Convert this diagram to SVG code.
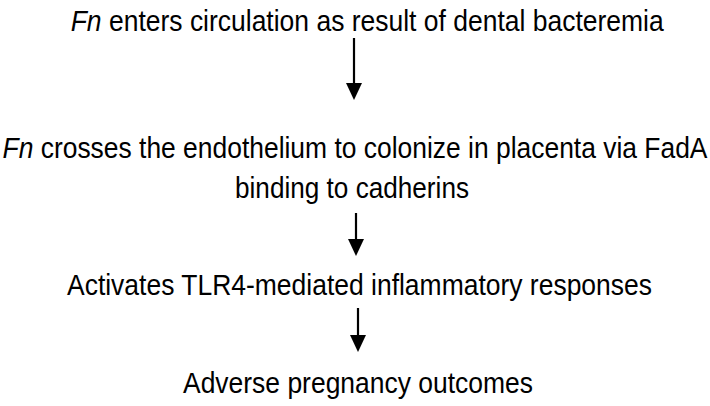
<svg xmlns="http://www.w3.org/2000/svg" width="710" height="406" viewBox="0 0 710 406">
<style>
text{font-family:"Liberation Sans",Arial,sans-serif;font-size:24px;fill:#000}
.ln{stroke:#000;stroke-width:2.2;fill:none}
.hd{fill:#000}
</style>
<rect width="710" height="406" fill="#fff"/>
<g id="n1"><text transform="translate(70.7,31) scale(1,1.2)" textLength="593" lengthAdjust="spacingAndGlyphs"><tspan font-style="italic">Fn</tspan> enters circulation as result of dental bacteremia</text></g>
<g id="n2"><text transform="translate(2.5,158) scale(1,1.2)" textLength="705" lengthAdjust="spacingAndGlyphs"><tspan font-style="italic">Fn</tspan> crosses the endothelium to colonize in placenta via FadA</text><text transform="translate(235,198) scale(1,1.2)" textLength="234" lengthAdjust="spacingAndGlyphs">binding to cadherins</text></g>
<g id="n3"><text transform="translate(67,295) scale(1,1.2)" textLength="585" lengthAdjust="spacingAndGlyphs">Activates TLR4-mediated inflammatory responses</text></g>
<g id="n4"><text transform="translate(183,393) scale(1,1.2)" textLength="350" lengthAdjust="spacingAndGlyphs">Adverse pregnancy outcomes</text></g>
<g id="connectors">
<line class="ln" x1="354" y1="38" x2="354" y2="84"/><polygon class="hd" points="346,83 362,83 354,100"/>
<line class="ln" x1="356" y1="213" x2="356" y2="240"/><polygon class="hd" points="348,239 364,239 356,256"/>
<line class="ln" x1="358" y1="308" x2="358" y2="336"/><polygon class="hd" points="350,335 366,335 358,352"/>
</g>
</svg>
